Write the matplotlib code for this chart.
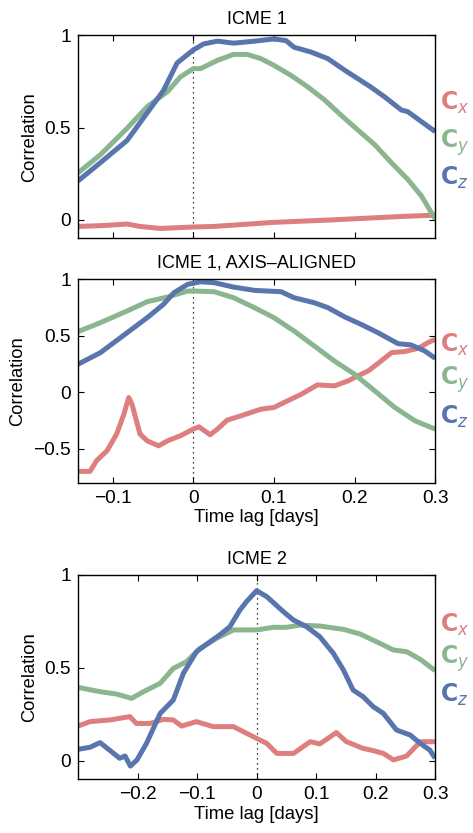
import matplotlib.pyplot as plt
import numpy as np

plt.rcParams['font.family'] = ['Liberation Sans', 'DejaVu Sans']

RED = '#dd7f7f'
GREEN = '#8ab58e'
BLUE = '#5875ad'

# ICME 1
p1_cz_x = [-0.143, -0.115, -0.082, -0.057, -0.037, -0.02, 0.0, 0.013, 0.03, 0.05, 0.076, 0.1, 0.115,
           0.125, 0.146, 0.167, 0.188, 0.204, 0.22, 0.237, 0.258, 0.266, 0.283, 0.3]
p1_cz_y = [0.21, 0.31, 0.43, 0.58, 0.70, 0.85, 0.92, 0.953, 0.968, 0.957, 0.968, 0.98, 0.971,
           0.935, 0.909, 0.873, 0.81, 0.765, 0.72, 0.667, 0.595, 0.586, 0.532, 0.478]
p1_cy_x = [-0.143, -0.115, -0.082, -0.057, -0.032, -0.016, 0.0, 0.009, 0.03, 0.05, 0.067, 0.084, 0.1,
           0.121, 0.142, 0.163, 0.183, 0.204, 0.225, 0.246, 0.266, 0.283, 0.3]
p1_cy_y = [0.254, 0.353, 0.496, 0.613, 0.694, 0.774, 0.819, 0.819, 0.864, 0.896, 0.896, 0.873, 0.837,
           0.783, 0.72, 0.649, 0.568, 0.487, 0.407, 0.308, 0.219, 0.129, 0.004]
p1_cx_x = [-0.143, -0.115, -0.082, -0.066, -0.041, 0.0, 0.026, 0.1, 0.175, 0.258, 0.3]
p1_cx_y = [-0.036, -0.032, -0.023, -0.036, -0.047, -0.039, -0.036, -0.014, 0.0, 0.018, 0.025]

# ICME 1, axis-aligned
p2_cz_x = [-0.143, -0.115, -0.082, -0.057, -0.037, -0.024, -0.007, 0.009, 0.026, 0.05, 0.076, 0.109,
           0.125, 0.15, 0.167, 0.188, 0.208, 0.229, 0.254, 0.27, 0.287, 0.3]
p2_cz_y = [0.247, 0.35, 0.526, 0.659, 0.776, 0.879, 0.953, 0.976, 0.968, 0.929, 0.9, 0.888,
           0.835, 0.791, 0.747, 0.665, 0.6, 0.526, 0.429, 0.418, 0.365, 0.3]
p2_cy_x = [-0.143, -0.115, -0.082, -0.057, -0.032, -0.007, 0.0, 0.026, 0.05, 0.076, 0.1, 0.125,
           0.15, 0.175, 0.2, 0.225, 0.25, 0.275, 0.3]
p2_cy_y = [0.535, 0.615, 0.718, 0.8, 0.841, 0.894, 0.894, 0.888, 0.835, 0.747, 0.659, 0.541,
           0.409, 0.276, 0.159, 0.012, -0.135, -0.253, -0.326]
p2_cx_x = [-0.143, -0.128, -0.12, -0.107, -0.095, -0.086, -0.08, -0.076, -0.066, -0.057, -0.043,
           -0.032, -0.016, 0.0, 0.007, 0.021, 0.03, 0.042, 0.059, 0.084, 0.1, 0.117, 0.134, 0.154,
           0.175, 0.192, 0.204, 0.217, 0.233, 0.246, 0.262, 0.279, 0.291, 0.3]
p2_cx_y = [-0.7, -0.7, -0.606, -0.518, -0.37, -0.194, -0.047, -0.106, -0.37, -0.43, -0.474,
           -0.43, -0.385, -0.326, -0.306, -0.376, -0.326, -0.247, -0.209, -0.15, -0.135, -0.076,
           -0.018, 0.065, 0.056, 0.1, 0.144, 0.188, 0.276, 0.35, 0.359, 0.388, 0.438, 0.468]

# ICME 2
p3_cz_x = [-0.3, -0.28, -0.263, -0.246, -0.23, -0.221, -0.212, -0.201, -0.185, -0.162, -0.14, -0.123,
           -0.101, -0.078, -0.062, -0.045, -0.028, -0.017, 0.0, 0.017, 0.045, 0.062, 0.084, 0.106,
           0.129, 0.146, 0.162, 0.179, 0.196, 0.213, 0.235, 0.258, 0.275, 0.291, 0.3]
p3_cz_y = [0.061, 0.072, 0.097, 0.054, 0.013, 0.025, -0.029, 0.004, 0.093, 0.254, 0.326, 0.47,
           0.586, 0.64, 0.676, 0.72, 0.81, 0.855, 0.914, 0.882, 0.801, 0.756, 0.72, 0.667,
           0.577, 0.487, 0.38, 0.344, 0.29, 0.254, 0.165, 0.138, 0.093, 0.057, 0.013]
p3_cy_x = [-0.3, -0.263, -0.235, -0.21, -0.19, -0.162, -0.14, -0.118, -0.095, -0.067, -0.039, 0.0,
           0.028, 0.05, 0.073, 0.106, 0.146, 0.174, 0.207, 0.23, 0.252, 0.275, 0.3]
p3_cy_y = [0.394, 0.371, 0.358, 0.335, 0.371, 0.416, 0.496, 0.532, 0.604, 0.658, 0.703, 0.703,
           0.717, 0.717, 0.729, 0.724, 0.706, 0.681, 0.631, 0.595, 0.586, 0.545, 0.484]
p3_cx_x = [-0.3, -0.28, -0.246, -0.213, -0.202, -0.179, -0.157, -0.14, -0.126, -0.101, -0.073, -0.039,
           0.0, 0.017, 0.034, 0.062, 0.09, 0.106, 0.134, 0.151, 0.179, 0.196, 0.213, 0.23, 0.252,
           0.275, 0.3]
p3_cx_y = [0.186, 0.21, 0.219, 0.237, 0.2, 0.2, 0.222, 0.219, 0.186, 0.21, 0.183, 0.183,
           0.12, 0.093, 0.039, 0.039, 0.102, 0.09, 0.151, 0.102, 0.066, 0.054, 0.039, 0.004, 0.025,
           0.102, 0.102]

panels = [
    dict(title="ICME 1", pos=[0.165, 0.714, 0.755, 0.2437], xlim=(-1 / 7, 0.3), ylim=(-0.1, 1),
         xticks=[-0.1, 0, 0.1, 0.2, 0.3], yticks=[0, 0.5, 1], xlabels=False,
         cx=(p1_cx_x, p1_cx_y), cy=(p1_cy_x, p1_cy_y), cz=(p1_cz_x, p1_cz_y),
         leg_y=[103, 143, 178]),
    dict(title="ICME 1, AXIS\u2013ALIGNED", pos=[0.165, 0.4205, 0.755, 0.2445], xlim=(-1 / 7, 0.3),
         ylim=(-0.8, 1), xticks=[-0.1, 0, 0.1, 0.2, 0.3], yticks=[-0.5, 0, 0.5, 1], xlabels=True,
         cx=(p2_cx_x, p2_cx_y), cy=(p2_cy_x, p2_cy_y), cz=(p2_cz_x, p2_cz_y),
         leg_y=[345, 380, 417]),
    dict(title="ICME 2", pos=[0.165, 0.0645, 0.755, 0.2456], xlim=(-0.3, 0.3), ylim=(-0.1, 1),
         xticks=[-0.2, -0.1, 0, 0.1, 0.2, 0.3], yticks=[0, 0.5, 1], xlabels=True,
         cx=(p3_cx_x, p3_cx_y), cy=(p3_cy_x, p3_cy_y), cz=(p3_cz_x, p3_cz_y),
         leg_y=[625, 659, 695]),
]


def fmt(v):
    if abs(v) < 1e-9:
        return "0"
    s = f"{v:g}"
    return s.replace("-", "\u2212")


fig = plt.figure(figsize=(4.73, 8.33), dpi=100)
H = 833.0

for p in panels:
    ax = fig.add_axes(p["pos"])
    ax.axvline(0, color='k', ls=(0, (1, 3)), lw=0.9, zorder=1)
    for key, col in (("cx", RED), ("cy", GREEN), ("cz", BLUE)):
        xs, ys = p[key]
        ax.plot(xs, ys, color=col, lw=3.6, solid_capstyle='butt', zorder=2)
    ax.set_xlim(p["xlim"])
    ax.set_ylim(p["ylim"])
    ax.set_xticks(p["xticks"])
    ax.set_yticks(p["yticks"])
    ax.set_yticklabels([fmt(v) for v in p["yticks"]])
    if p["xlabels"]:
        ax.set_xticklabels([fmt(v) for v in p["xticks"]])
        ax.set_xlabel("Time lag [days]", fontsize=13.3, labelpad=2)
    else:
        ax.set_xticklabels([])
    ax.tick_params(direction='in', top=True, right=True, labelsize=13.8, length=4, width=0.8, pad=5)
    ax.set_ylabel("Correlation", fontsize=13.2, labelpad=5)
    ax.set_title(p["title"], fontsize=13, pad=8)
    for s in ax.spines.values():
        s.set_linewidth(1.0)
    for sub, col, yy in zip(("x", "y", "z"), (RED, GREEN, BLUE), p["leg_y"]):
        fig.text(440 / 473, 1 - yy / H, r"$\mathbf{C}_{\mathit{" + sub + "}}$", color=col,
                 fontsize=17, ha='left', va='center')

fig.savefig("out.png", dpi=100)
